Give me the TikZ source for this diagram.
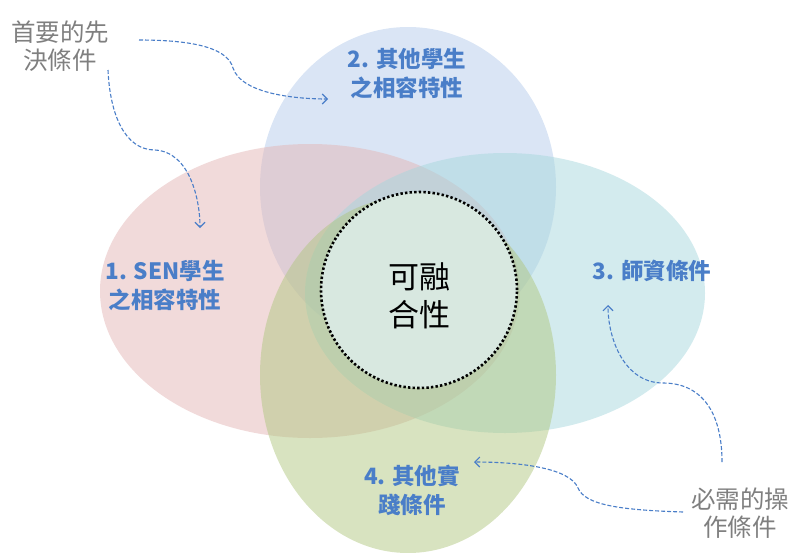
\documentclass[tikz,border=0pt]{standalone}
\usepackage{fontspec}
\setmainfont{Noto Sans CJK TC}
\usetikzlibrary{shapes.geometric,arrows.meta}
\definecolor{pinkbase}{RGB}{227,181,181}
\definecolor{bluebase}{RGB}{181,203,235}
\definecolor{tealbase}{RGB}{167,215,221}
\definecolor{greenbase}{RGB}{177,199,129}
\definecolor{corefill}{RGB}{216,232,224}
\definecolor{lblblue}{RGB}{74,126,200}
\definecolor{notegray}{RGB}{127,127,127}
\tikzset{
  blob/.style={ellipse, inner sep=0pt, fill opacity=0.5, draw=none},
  lbl/.style={text=lblblue, font=\fontsize{22.5}{29}\selectfont\bfseries, align=center},
  note/.style={text=notegray, font=\fontsize{24.5}{28}\selectfont, align=center},
  pointer/.style={draw=lblblue, dash pattern=on 4pt off 2pt, line width=1.1pt, -{Straight Barb[length=5pt,width=10pt]}}
}
\begin{document}
\begin{tikzpicture}[x=1pt,y=-1pt]
\useasboundingbox (0,0) rectangle (795,552);
\node[blob, fill=bluebase, minimum width=296pt, minimum height=320pt] (e2) at (408,187) {};
\node[blob, fill=pinkbase, minimum width=420pt, minimum height=294pt] (e1) at (310,291) {};
\node[blob, fill=tealbase, minimum width=400pt, minimum height=280pt] (e3) at (505,293) {};
\node[blob, fill=greenbase, minimum width=296pt, minimum height=356pt] (e4) at (408,375) {};
\node[circle, fill=corefill, fill opacity=1, draw opacity=1, draw=black, line width=2.6pt, dash pattern=on 2.4pt off 2.2pt, minimum size=196pt, inner sep=0pt] (core) at (419,290) {};
\node[align=center, font=\fontsize{31}{38}\selectfont] (coretxt) at (419,296) {可融\\合性};
\node[lbl] (l1) at (165,286) {1. SEN學生\\之相容特性};
\node[lbl] (l2) at (407,74) {2. 其他學生\\之相容特性};
\node[lbl] (l3) at (652,271) {3. 師資條件};
\node[lbl] (l4) at (412,490) {4. 其他實\\踐條件};
\node[note] (pre) at (60,46) {首要的先\\決條件};
\node[note] (ops) at (740,513) {必需的操\\作條件};
\coordinate (a1s) at (139,40);
\coordinate (a1e) at (328,99);
\coordinate (a2s) at (108,70);
\coordinate (a2e) at (200,228);
\coordinate (a3s) at (722,462);
\coordinate (a3e) at (608,305);
\coordinate (a4s) at (683,512);
\coordinate (a4e) at (474,462);
\draw[pointer] (a1s) .. controls (200,40) and (228,50) .. (233,68) .. controls (242,95) and (300,99) .. (a1e);
\draw[pointer] (a2s) .. controls (110,115) and (125,150) .. (155,150) .. controls (190,152) and (200,200) .. (a2e);
\draw[pointer] (a3s) .. controls (722,410) and (700,383) .. (663,383) .. controls (625,383) and (608,340) .. (a3e);
\draw[pointer] (a4s) .. controls (620,510) and (585,505) .. (578,488) .. controls (570,468) and (520,462) .. (a4e);
\end{tikzpicture}
\end{document}
